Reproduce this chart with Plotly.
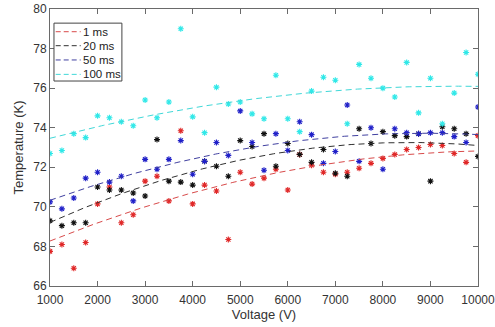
import numpy as np
import plotly.graph_objects as go

voltage = [1000, 1250, 1500, 1750, 2000, 2250, 2500, 2750, 3000, 3250, 3500, 3750,
           4000, 4250, 4500, 4750, 5000, 5250, 5500, 5750, 6000, 6250, 6500, 6750,
           7000, 7250, 7500, 7750, 8000, 8250, 8500, 8750, 9000, 9250, 9500, 9750, 10000]

temp_1ms = [67.75, 68.1, 66.9, 68.2, 70.15, 71.0, 69.2, 69.6, 71.3, 71.55, 70.3, 73.85,
            70.15, 71.1, 70.8, 68.35, 71.75, 71.15, 71.45, 71.9, 70.85, 72.65, 72.1, 71.75,
            71.65, 71.75, 71.95, 72.2, 72.45, 72.65, 72.9, 73.0, 73.15, 73.1, 72.7, 72.25, 73.6]
temp_20ms = [69.3, 69.05, 69.2, 69.2, 71.0, 70.85, 70.85, 70.7, 70.55, 73.4, 71.3, 71.25,
             71.1, 72.3, 72.05, 71.55, 73.35, 73.05, 73.7, 72.05, 73.2, 72.65, 72.25, 72.9,
             71.7, 71.55, 73.95, 73.2, 73.8, 73.6, 73.55, 73.7, 71.3, 74.05, 73.95, 73.7, 72.55]
temp_50ms = [70.25, 69.9, 70.45, 71.45, 71.75, 71.25, 71.55, 70.3, 72.4, 71.9, 72.4, 73.35,
             71.65, 72.3, 73.25, 72.6, 74.85, 73.25, 71.85, 73.7, 72.85, 74.3, 73.65, 72.2,
             72.8, 75.15, 72.3, 74.0, 71.9, 73.95, 73.75, 73.7, 73.75, 73.75, 73.55, 73.25, 75.05]
temp_100ms = [72.7, 72.85, 73.7, 73.5, 74.6, 74.5, 74.3, 74.1, 75.4, 74.5, 75.3, 79.0,
              74.55, 73.75, 76.05, 75.2, 75.3, 74.7, 74.45, 76.65, 74.45, 73.8, 75.85, 76.55,
              76.4, 74.2, 77.2, 76.5, 76.0, 75.55, 77.3, 74.75, 76.5, 74.2, 75.75, 77.8, 76.7]

series_names = ["1 ms", "20 ms", "50 ms", "100 ms"]
x_ticks = [1000, 2000, 3000, 4000, 5000, 6000, 7000, 8000, 9000, 10000]
x_ticktext = ["1000", "2000", "3000", "4000", "5000", "6000", "7000", "8000", "9000", "10000"]
y_ticks = [66, 68, 70, 72, 74, 76, 78, 80]

series = [temp_1ms, temp_20ms, temp_50ms, temp_100ms]
marker_colors = ["#e02828", "#101010", "#2020c8", "#30e8e8"]
line_colors = ["#d84a4a", "#303030", "#4040a0", "#40d8d8"]

fig = go.Figure()
vx = np.array(voltage, dtype=float)
xfit = np.linspace(vx.min(), vx.max(), 200)

for temps, mc in zip(series, marker_colors):
    fig.add_trace(go.Scatter(
        x=voltage, y=temps, mode="markers", showlegend=False,
        marker=dict(symbol="asterisk-open", size=5, color=mc,
                    line=dict(color=mc, width=1.1)),
        hoverinfo="skip"))

for temps, name, lc in zip(series, series_names, line_colors):
    coef = np.polyfit(vx, np.array(temps), 2)
    fig.add_trace(go.Scatter(
        x=xfit, y=np.polyval(coef, xfit), mode="lines", name=name,
        showlegend=False, line=dict(color=lc, width=1, dash="6px,4px")))

# compact MATLAB-style legend box
legend_box = dict(x0=0.0093, x1=0.168, y0=0.740, y1=0.949)
legend_rows = [0.918, 0.8675, 0.816, 0.764]
shapes = [dict(type="rect", xref="paper", yref="paper", **legend_box,
               line=dict(color="#444444", width=1), fillcolor="white", layer="above")]
annotations = []
for name, lc, yy in zip(series_names, line_colors, legend_rows):
    shapes.append(dict(type="line", xref="paper", yref="paper", x0=0.0133, x1=0.0717,
                       y0=yy, y1=yy, line=dict(color=lc, width=1, dash="5px,3px"),
                       layer="above"))
    annotations.append(dict(xref="paper", yref="paper", x=0.0745, y=yy, text=name,
                            showarrow=False, xanchor="left", yanchor="middle",
                            borderpad=0, font=dict(size=11.5, color="#222222")))

font_family = "Liberation Sans, Arial, sans-serif"
axis_common = dict(
    showline=True, linecolor="#6a6a6a", linewidth=1, mirror="ticks",
    ticks="inside", ticklen=5, tickcolor="#6a6a6a", showgrid=False,
    zeroline=False, automargin=False,
    tickfont=dict(size=12, color="#333333", family=font_family),
)

fig.update_layout(
    width=495, height=327,
    margin=dict(l=50, r=17, t=9, b=41),
    paper_bgcolor="white", plot_bgcolor="white",
    font=dict(family=font_family, color="#333333"),
    showlegend=False,
    shapes=shapes, annotations=annotations,
    xaxis=dict(range=[1000, 10000], tickvals=x_ticks, ticktext=x_ticktext,
               ticklabelstandoff=3, ticklabeloverflow="allow",
               title=dict(text="Voltage (V)", font=dict(size=13), standoff=2),
               **axis_common),
    yaxis=dict(range=[66, 80], tickvals=y_ticks,
               title=dict(text="Temperature (K)", font=dict(size=13), standoff=6),
               **axis_common),
)

fig.write_html("out.html")
